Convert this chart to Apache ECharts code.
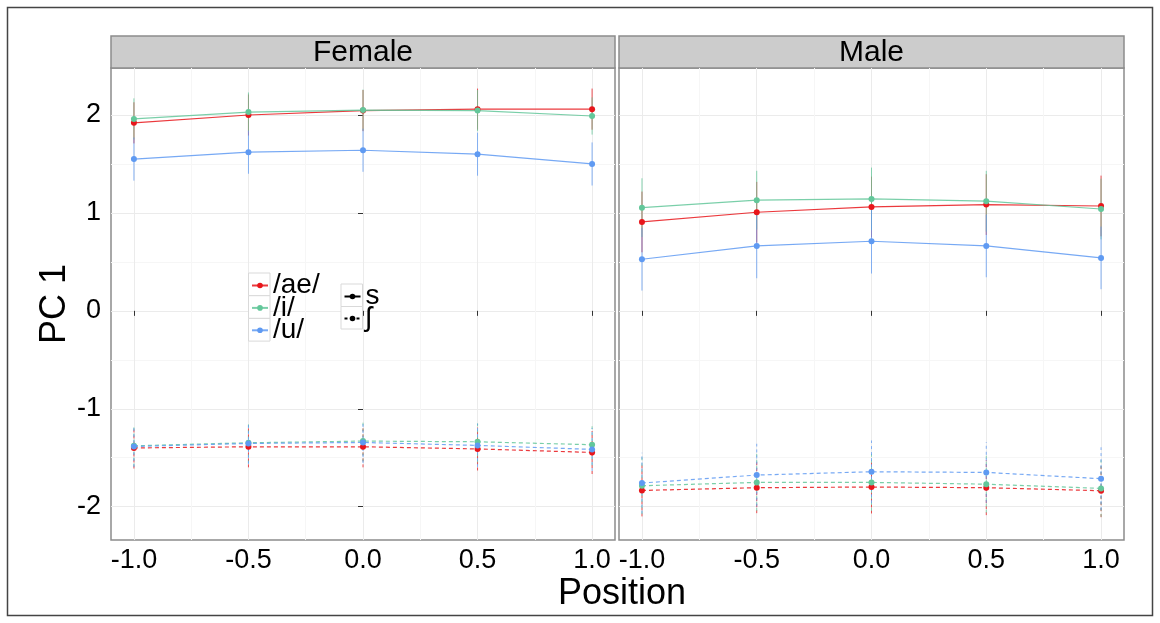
<!DOCTYPE html>
<html>
<head>
<meta charset="utf-8">
<title>PC 1 by position</title>
<script src="https://cdn.jsdelivr.net/npm/echarts@6/dist/echarts.min.js"></script>
<style>
  html, body { margin: 0; padding: 0; background: #fff; }
  #chart { width: 1160px; height: 623px; }
</style>
</head>
<body>
<div id="chart"></div>
<script>
// x positions and tick labels
var positions = [-1, -0.5, 0, 0.5, 1];
var xMajor = [-1, -0.5, 0, 0.5, 1];
var xMinor = [-0.75, -0.25, 0.25, 0.75];
var xTickLabels = ['-1.0', '-0.5', '0.0', '0.5', '1.0'];
var yMajor = [-2, -1, 0, 1, 2];
var yMinor = [-1.5, -0.5, 0.5, 1.5];
var yTickLabels = ['-2', '-1', '0', '1', '2'];

var vowels = ['/ae/', '/i/', '/u/'];
var consonants = ['s', 'ʃ'];
var panelNames = ['Female', 'Male'];

// Female, /s/ (solid)
var fS_ae = [1.92, 2.00, 2.045, 2.06, 2.06];
var fS_i  = [1.96, 2.03, 2.05, 2.045, 1.99];
var fS_u  = [1.55, 1.62, 1.64, 1.60, 1.50];
var fS_ae_err = [0.21, 0.21, 0.21, 0.21, 0.21];
var fS_i_err  = [0.21, 0.20, 0.21, 0.21, 0.19];
var fS_u_err  = [0.22, 0.22, 0.22, 0.22, 0.22];

// Female, /ʃ/ (dashed)
var fSh_ae = [-1.40, -1.388, -1.388, -1.41, -1.446];
var fSh_i  = [-1.378, -1.347, -1.33, -1.337, -1.367];
var fSh_u  = [-1.385, -1.354, -1.344, -1.374, -1.415];
var fSh_ae_err = [0.21, 0.21, 0.21, 0.22, 0.22];
var fSh_i_err  = [0.21, 0.21, 0.21, 0.21, 0.21];
var fSh_u_err  = [0.21, 0.21, 0.21, 0.22, 0.22];

// Male, /s/ (solid)
var mS_ae = [0.908, 1.007, 1.061, 1.085, 1.071];
var mS_i  = [1.054, 1.13, 1.143, 1.12, 1.04];
var mS_u  = [0.527, 0.663, 0.711, 0.663, 0.541];
var mS_ae_err = [0.31, 0.31, 0.31, 0.31, 0.31];
var mS_i_err  = [0.30, 0.30, 0.32, 0.31, 0.31];
var mS_u_err  = [0.32, 0.33, 0.33, 0.32, 0.32];

// Male, /ʃ/ (dashed)
var mSh_ae = [-1.834, -1.806, -1.799, -1.806, -1.837];
var mSh_i  = [-1.786, -1.752, -1.752, -1.77, -1.813];
var mSh_u  = [-1.758, -1.677, -1.643, -1.65, -1.714];
var mSh_ae_err = [0.265, 0.26, 0.27, 0.28, 0.27];
var mSh_i_err  = [0.29, 0.29, 0.29, 0.29, 0.29];
var mSh_u_err  = [0.31, 0.32, 0.32, 0.31, 0.32];

var vowelColors = ['#E8161B', '#63C79A', '#5F9AF2'];
var FONT = '"Liberation Sans", Arial, sans-serif';

var chart = echarts.init(document.getElementById('chart'));

var grids = [
    { left: 111, top: 68, width: 504, height: 472 },
    { left: 619, top: 68, width: 505, height: 472 }
];

var xAxes = [], yAxes = [];
grids.forEach(function (g, gi) {
    // major x
    xAxes.push({
        type: 'value', gridIndex: gi, min: -1.1, max: 1.1, position: 'bottom',
        axisLine: { show: false },
        axisTick: { show: true, customValues: xMajor, length: 5, lineStyle: { color: '#333' } },
        axisLabel: {
            customValues: xMajor, margin: 7, fontSize: 27, color: '#000', fontFamily: FONT,
            formatter: function (v) { return xTickLabels[xMajor.indexOf(v)]; }
        },
        splitLine: { show: true, lineStyle: { color: '#EBEBEB', width: 1 } }
    });
    // minor x
    xAxes.push({
        type: 'value', gridIndex: gi, min: -1.1, max: 1.1, position: 'bottom',
        axisLine: { show: false },
        axisTick: { show: false, customValues: xMinor },
        axisLabel: { show: false, customValues: xMinor },
        splitLine: { show: true, lineStyle: { color: '#F6F6F6', width: 1 } }
    });
    // major y
    yAxes.push({
        type: 'value', gridIndex: gi, min: -2.34, max: 2.48,
        name: gi === 0 ? 'PC 1' : '', nameLocation: 'middle', nameGap: 31,
        nameTextStyle: { fontSize: 36, color: '#000', fontFamily: FONT },
        axisLine: { show: false },
        axisTick: { show: gi === 0, customValues: yMajor, length: 5, lineStyle: { color: '#333' } },
        axisLabel: {
            show: gi === 0, customValues: yMajor, margin: 10, fontSize: 27, color: '#000', fontFamily: FONT,
            formatter: function (v) { return yTickLabels[yMajor.indexOf(v)]; }
        },
        splitLine: { show: true, lineStyle: { color: '#EBEBEB', width: 1 } }
    });
    // minor y
    yAxes.push({
        type: 'value', gridIndex: gi, min: -2.34, max: 2.48,
        axisLine: { show: false },
        axisTick: { show: false, customValues: yMinor },
        axisLabel: { show: false, customValues: yMinor },
        splitLine: { show: true, lineStyle: { color: '#F6F6F6', width: 1 } }
    });
});

var series = [];

function addGroup(gi, means, errs, dashed) {
    means.forEach(function (m, k) {
        var color = vowelColors[k];
        var e = errs[k];
        series.push({
            name: vowels[k] + ' err', type: 'custom',
            xAxisIndex: gi * 2, yAxisIndex: gi * 2,
            silent: true, z: 2,
            encode: { x: 0, y: [1, 2] },
            data: positions.map(function (x, i) { return [x, m[i] - e[i], m[i] + e[i]]; }),
            renderItem: function (params, api) {
                var a = api.coord([api.value(0), api.value(1)]);
                var b = api.coord([api.value(0), api.value(2)]);
                return {
                    type: 'line',
                    shape: { x1: a[0], y1: a[1], x2: b[0], y2: b[1] },
                    style: { stroke: color, lineWidth: 1, opacity: 0.75, lineDash: dashed ? [3, 3] : null }
                };
            }
        });
    });
}

function addLines(gi, means, dashed) {
    means.forEach(function (m, k) {
        var color = vowelColors[k];
        series.push({
            name: vowels[k], type: 'line',
            xAxisIndex: gi * 2, yAxisIndex: gi * 2, z: 3,
            data: positions.map(function (x, i) { return [x, m[i]]; }),
            symbol: 'circle', symbolSize: 6,
            itemStyle: { color: color },
            lineStyle: { color: color, width: 1.2, opacity: 0.85, type: dashed ? [4, 3] : 'solid' }
        });
    });
}

// solid lines first so legend icons for vowels come from solid series
addLines(0, [fS_ae, fS_i, fS_u], false);
addLines(1, [mS_ae, mS_i, mS_u], false);
addLines(0, [fSh_ae, fSh_i, fSh_u], true);
addLines(1, [mSh_ae, mSh_i, mSh_u], true);
addGroup(0, [fS_ae, fS_i, fS_u], [fS_ae_err, fS_i_err, fS_u_err], false);
addGroup(0, [fSh_ae, fSh_i, fSh_u], [fSh_ae_err, fSh_i_err, fSh_u_err], true);
addGroup(1, [mS_ae, mS_i, mS_u], [mS_ae_err, mS_i_err, mS_u_err], false);
addGroup(1, [mSh_ae, mSh_i, mSh_u], [mSh_ae_err, mSh_i_err, mSh_u_err], true);

// empty series only for the consonant legend keys
consonants.forEach(function (c, ci) {
    series.push({
        name: c, type: 'line', xAxisIndex: 0, yAxisIndex: 0, data: [],
        symbol: 'circle', symbolSize: 6,
        itemStyle: { color: '#000' },
        lineStyle: { color: '#000', width: 1, type: ci === 0 ? 'solid' : [3, 3] }
    });
});

// outer frame, legend key boxes and facet strips
var graphics = [
    { type: 'rect', shape: { x: 7.5, y: 7.5, width: 1145, height: 608 },
      style: { fill: 'none', stroke: '#444', lineWidth: 1.5 }, silent: true, z: -10 }
];
grids.forEach(function (g, gi) {
    graphics.push({
        type: 'rect', shape: { x: g.left, y: 36, width: g.width, height: 32 },
        style: { fill: '#CCCCCC', stroke: '#8C8C8C', lineWidth: 1.5 }, silent: true
    });
    graphics.push({
        type: 'text', x: g.left + g.width / 2, y: 53,
        style: { text: panelNames[gi], fontSize: 30, fontFamily: FONT, fill: '#000',
                 align: 'center', verticalAlign: 'middle' }, silent: true
    });
});
[0, 1, 2].forEach(function (i) {
    graphics.push({ type: 'rect', shape: { x: 248.5, y: 273 + i * 22.7, width: 21.5, height: 22.7 },
        style: { fill: '#fff', stroke: '#D9D9D9', lineWidth: 1 }, silent: true, z: 5 });
});
[0, 1].forEach(function (i) {
    graphics.push({ type: 'rect', shape: { x: 341, y: 284 + i * 22.5, width: 21.5, height: 22.5 },
        style: { fill: '#fff', stroke: '#D9D9D9', lineWidth: 1 }, silent: true, z: 5 });
});

var legendText = { fontSize: 28, color: '#000', fontFamily: FONT, lineHeight: 22 };

chart.setOption({
    animation: false,
    grid: grids.map(function (g) {
        return Object.assign({ show: true, borderColor: '#8C8C8C', borderWidth: 1.5,
                               backgroundColor: 'transparent', containLabel: false }, g);
    }),
    xAxis: xAxes,
    yAxis: yAxes,
    title: {
        text: 'Position', left: 617, top: 571, textAlign: 'center',
        textStyle: { fontSize: 36, fontWeight: 'normal', color: '#000', fontFamily: FONT }
    },
    legend: [{
        data: vowels, orient: 'vertical', left: 251, top: 271.5, padding: 0,
        itemWidth: 16, itemHeight: 7, itemGap: -5.6, z: 10,
        textStyle: legendText, selectedMode: false
    }, {
        data: consonants, orient: 'vertical', left: 343.5, top: 282.5, padding: 0,
        itemWidth: 16, itemHeight: 7, itemGap: -6, z: 10,
        textStyle: legendText, selectedMode: false
    }],
    graphic: graphics,
    series: series
});
</script>
</body>
</html>
